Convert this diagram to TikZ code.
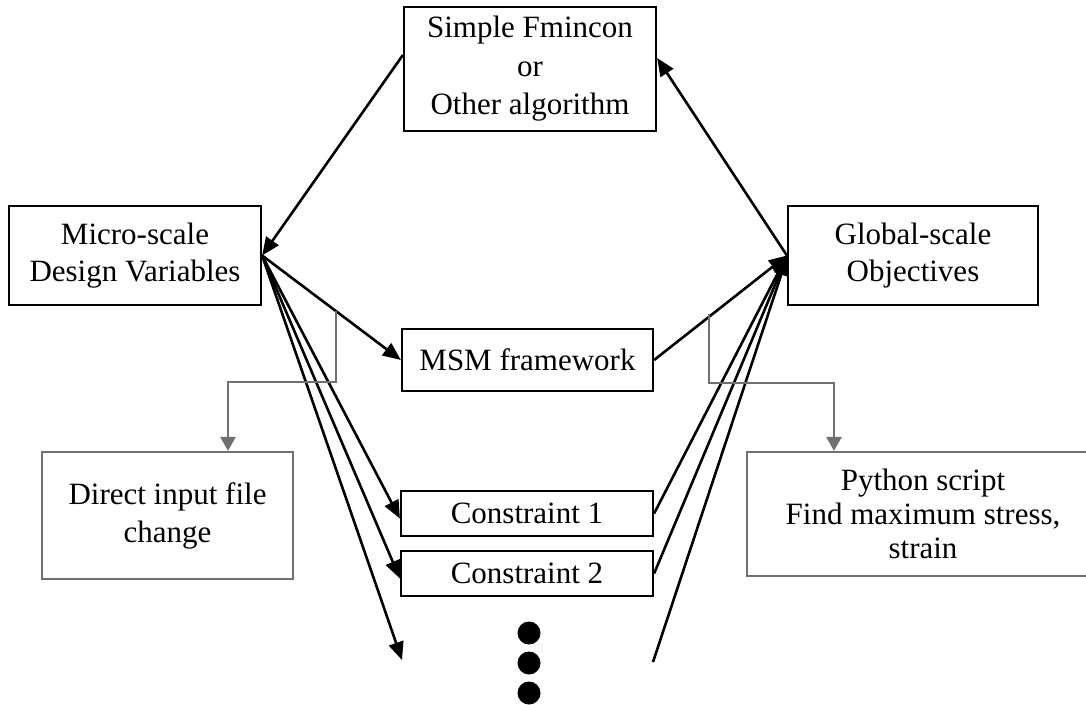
\documentclass[tikz,border=0pt]{standalone}
\usepackage{fontspec}
\setmainfont{Liberation Serif}
\usetikzlibrary{arrows.meta,calc}
\definecolor{linegray}{RGB}{112,112,112}
\begin{document}
\begin{tikzpicture}[x=1pt,y=-1pt,
  box/.style={draw=black,line width=2.2pt,fill=white,align=center,inner sep=0pt,
    font=\fontsize{31}{37}\selectfont},
  graybox/.style={box,draw=linegray},
  flow/.style={line width=2.6pt,-{Triangle[length=18pt,width=15pt]}},
  side/.style={line width=2.4pt,draw=linegray,-{Triangle[length=14pt,width=15pt]},color=linegray},
  dot/.style={circle,fill=black,minimum size=23pt,inner sep=0pt}]
\clip (0,0) rectangle (1086,704);
\fill[white] (0,0) rectangle (1086,704);

% boxes
\node[box,minimum width=252pt,minimum height=124pt,font=\fontsize{31}{38.5}\selectfont]
  (top) at (530,69) {Simple Fmincon\\or\\Other algorithm};
\node[box,minimum width=252pt,minimum height=99pt] (micro) at (135,255.5)
  {Micro-scale\\Design Variables};
\node[box,minimum width=250pt,minimum height=99pt] (global) at (913,255.5)
  {Global-scale\\Objectives};
\node[box,minimum width=251pt,minimum height=62pt] (msm) at (527.5,360) {MSM framework};
\node[box,minimum width=252pt,minimum height=45pt] (c1) at (527,513.5) {Constraint 1};
\node[box,minimum width=252pt,minimum height=45pt] (c2) at (527,573.5) {Constraint 2};
\node[graybox,minimum width=251pt,minimum height=127pt,font=\fontsize{31}{38}\selectfont]
  (direct) at (167.5,515.5) {Direct input file\\change};
\node[graybox,minimum width=352pt,minimum height=124pt,font=\fontsize{31}{34}\selectfont]
  (python) at (923,514) {Python script\\Find maximum stress,\\strain};

% continuation dots
\node[dot] (dot1) at (529,633) {};
\node[dot] (dot2) at (529,663) {};
\node[dot] (dot3) at (529,693) {};

% free ends of the continuation lines
\coordinate (din) at (402,660);
\coordinate (dout) at (653,662);

% optimisation loop
\draw[flow] ([yshift=14pt]top.west) -- (micro.east);
\draw[flow] (global.west) -- ([yshift=11pt]top.east);

% design variables to analyses
\draw[flow] (micro.east) -- (msm.west);
\draw[flow] (micro.east) -- ([yshift=-5pt]c1.west);
\draw[flow] (micro.east) -- ([yshift=-5pt]c2.west);
\draw[flow] (micro.east) -- (din);

% analyses to objectives
\draw[flow] (msm.east) -- (global.west);
\draw[flow] (c1.east) -- (global.west);
\draw[flow] (c2.east) -- ([yshift=-1pt]global.west);
\draw[flow] (dout) -- ([yshift=-2pt]global.west);

% implementation notes
\coordinate (gl) at (336,311);
\coordinate (glb) at (336,382);
\coordinate (gr) at (709,314);
\coordinate (grb) at (709,383);
\draw[side] (gl) -- (glb) -| ([xshift=60.5pt]direct.north);
\draw[side] (gr) -- (grb) -| ([xshift=-89pt]python.north);
\end{tikzpicture}
\end{document}
